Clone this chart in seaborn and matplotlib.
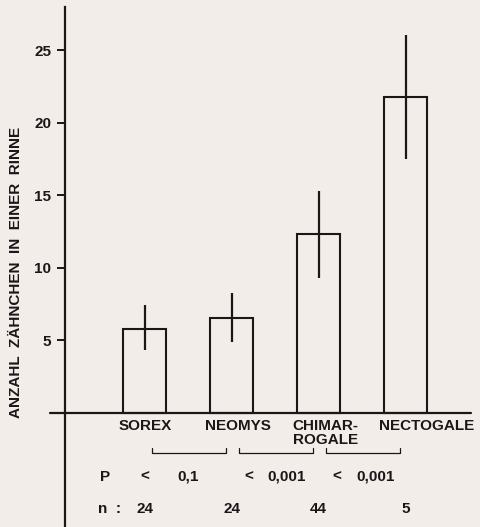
import pandas as pd
import matplotlib.pyplot as plt
import seaborn as sns

# values
genera = ["SOREX", "NEOMYS", "CHIMAR-\nROGALE", "NECTOGALE"]
mean_teeth = [5.75, 6.55, 12.3, 21.8]
err_low = [4.3, 4.9, 9.3, 17.5]
err_high = [7.4, 8.25, 15.3, 26.05]
n_animals = ["24", "24", "44", "5"]
p_values = ["0,1", "0,001", "0,001"]
p_sign_x = [0.0, 1.2, 2.21]
p_value_x = [0.5, 1.63, 2.66]

ink = "#1c1618"
paper = "#f3ede9"

sns.set_style("white")
plt.rcParams['font.family'] = ['Liberation Sans', 'DejaVu Sans']
plt.rcParams['font.weight'] = 'bold'
fs = 11

data = pd.DataFrame({"genus": genera, "teeth": mean_teeth})

fig = plt.figure(figsize=(4.8, 5.27), dpi=100, facecolor=paper)
ax = fig.add_axes([65 / 480, 0, 415 / 480, 520 / 527])
ax.set_facecolor(paper)

sns.barplot(data=data, x="genus", y="teeth", width=0.5, fill=False,
            color=ink, linewidth=1.5, errorbar=None, ax=ax)
for p in ax.patches:
    p.set_edgecolor(ink)
    p.set_facecolor("none")

# error bars without caps
ax.vlines(range(len(genera)), err_low, err_high, color=ink, linewidth=1.6)

ax.set_xlim(-0.914, 3.856)
ax.set_ylim(-7.88, 27.98)
ax.set_yticks([5, 10, 15, 20, 25])
ax.set_xticks([])
ax.set_xlabel("")
ax.set_ylabel("")
ax.tick_params(axis="y", direction="out", length=6, width=1.4, pad=4,
               color=ink, labelcolor=ink, labelsize=fs, left=True)
for s in ["top", "right", "bottom"]:
    ax.spines[s].set_visible(False)
ax.spines["left"].set_color(ink)
ax.spines["left"].set_linewidth(1.6)

# baseline sticks out past the y axis on the left
ax.axhline(0, xmin=-0.036, xmax=0.978, color=ink, linewidth=1.6, clip_on=False)

# genus names under the bars
for i, g in enumerate(genera):
    ax.text(i - 0.3, -0.45, g, ha="left", va="top", multialignment="center",
            linespacing=1.0, fontsize=fs, color=ink)

# brackets between neighbouring genera
for i in range(len(p_values)):
    x0, x1 = i + 0.09, i + 0.94
    ax.plot([x0, x0, x1, x1], [-2.43, -2.78, -2.78, -2.43], color=ink,
            linewidth=0.9)

ax.text(-0.456, -4.41, "P", ha="center", va="center", fontsize=fs, color=ink)
for sx, vx, pv in zip(p_sign_x, p_value_x, p_values):
    ax.text(sx, -4.41, "<", ha="center", va="center", fontsize=fs, color=ink)
    ax.text(vx, -4.41, pv, ha="center", va="center", fontsize=fs, color=ink)

ax.text(-0.53, -6.64, "n  :", ha="left", va="center", fontsize=fs, color=ink)
for i, n in enumerate(n_animals):
    ax.text(i, -6.64, n, ha="center", va="center", fontsize=fs, color=ink)

fig.text(16 / 480, 1 - 272 / 527, "ANZAHL  ZÄHNCHEN  IN  EINER  RINNE",
         rotation=90, ha="center", va="center", fontsize=fs, color=ink)

fig.savefig("out.png", dpi=100, facecolor=paper)
